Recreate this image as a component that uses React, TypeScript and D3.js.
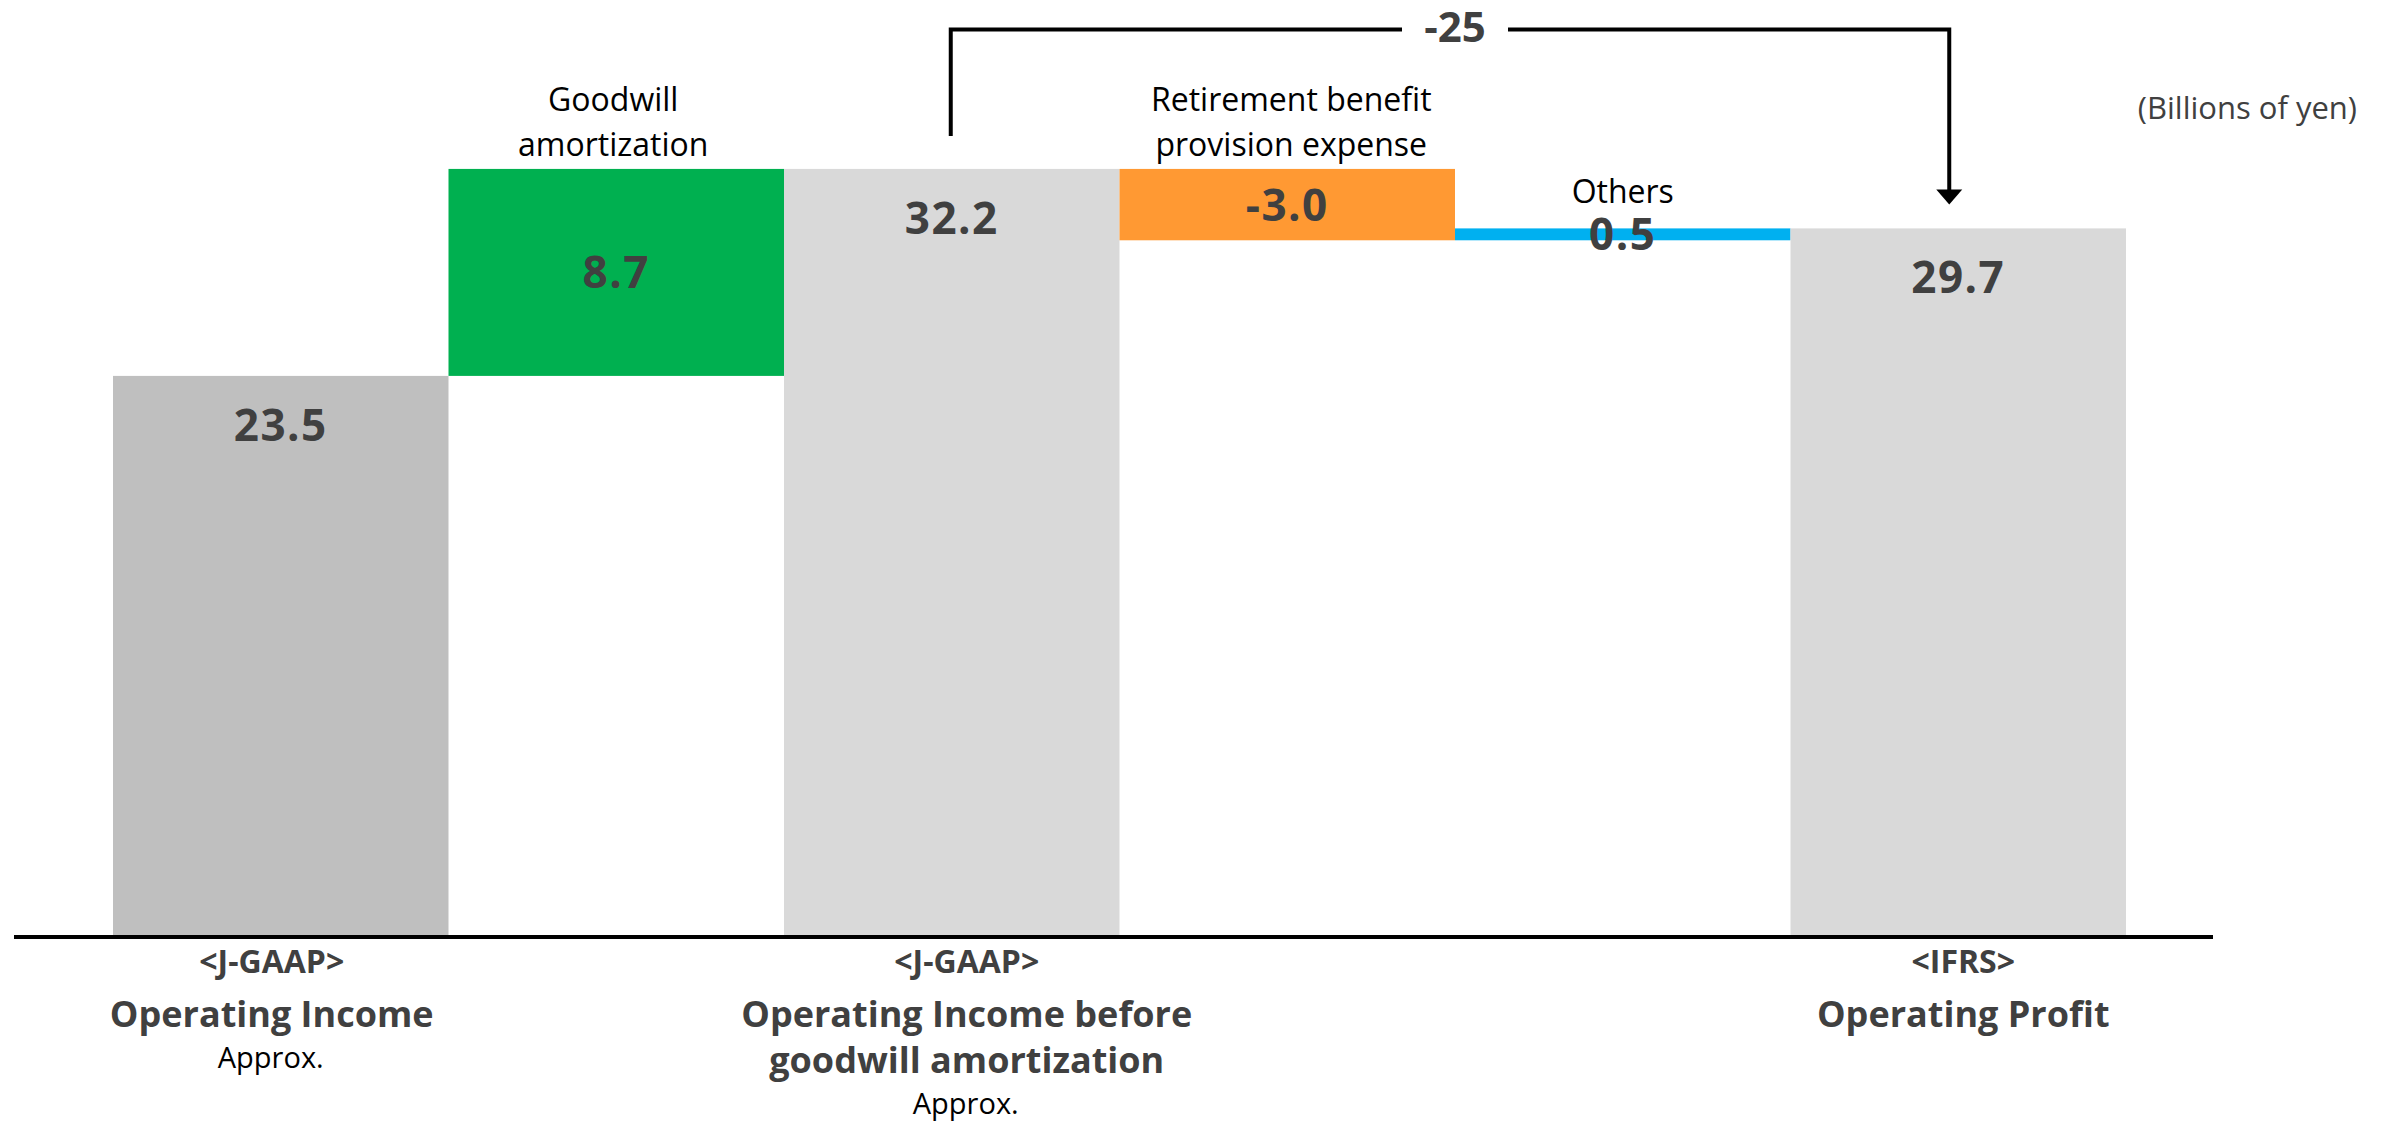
import React from "react";
import * as d3 from "d3";

// ---- data ----
const categories = [
  "J-GAAP Operating Income",
  "Goodwill amortization",
  "J-GAAP Operating Income before goodwill amortization",
  "Retirement benefit provision expense",
  "Others",
  "IFRS Operating Profit",
];
const values = [23.5, 8.7, 32.2, -3.0, 0.5, 29.7];
const kinds = ["total", "delta", "total", "delta", "delta", "total"];
const topLabels = [[], ["Goodwill", "amortization"], [], ["Retirement benefit", "provision expense"], ["Others"], []];
const axisLabels = [
  ["<J-GAAP>", "Operating Income"],
  [],
  ["<J-GAAP>", "Operating Income before", "goodwill amortization"],
  [],
  [],
  ["<IFRS>", "Operating Profit"],
];
const approxFlags = [true, false, true, false, false, false];
const bracketFrom = 2;
const bracketTo = 5;
const bracketLabel = "-25";
const unitLabel = "(Billions of yen)";

// ---- styles / layout ----
const barColors = ["#BFBFBF", "#00B050", "#D9D9D9", "#FF9933", "#00B0F0", "#D9D9D9"];
const axisNudge = [-9, 0, 15, 0, 0, 5];
const topNudge = [0, -3, 0, 4, 0, 0];
const FONT = "'Open Sans', 'Noto Sans', sans-serif";
const W = 2384;
const H = 1125;

const fmt = d3.formatLocale({ decimal: ".", thousands: ",", grouping: [3], currency: ["", ""], minus: "-" }).format(".1f");

export default function App() {
  const x = d3.scaleBand<string>().domain(categories).range([113, 2126]).padding(0);
  const y = d3.scaleLinear().domain([0, 39.3]).range([935, 0]);
  const bw = x.bandwidth();
  const cx = (i: number) => (x(categories[i]) as number) + bw / 2;

  let running = 0;
  const bars = values.map((v, i) => {
    let lo: number, hi: number;
    if (kinds[i] === "total") {
      lo = 0;
      hi = v;
      running = v;
    } else {
      const start = running;
      running = running + v;
      lo = Math.min(start, running);
      hi = Math.max(start, running);
    }
    return { i, v, lo, hi, kind: kinds[i] };
  });

  const y0 = y(0);
  const xl = cx(bracketFrom) - 1;
  const xr = cx(bracketTo) - 9;
  const yTop = 29.5;
  const leftBottom = y(bars[bracketFrom].hi) - 33;
  const tipY = y(bars[bracketTo].hi) - 24;
  const textX = (cx(bracketFrom) + cx(bracketTo)) / 2;
  const gapHalf = 53;

  return (
    <svg width={W} height={H} style={{ position: "absolute", left: 0, top: 0, background: "#fff" }} fontFamily={FONT}>
      {bars.map((b) => (
        <rect
          key={"bar" + b.i}
          x={x(categories[b.i])}
          width={bw}
          y={y(b.hi)}
          height={y(b.lo) - y(b.hi)}
          fill={barColors[b.i]}
        />
      ))}
      {/* axis baseline */}
      <line x1={14} x2={2213} y1={y0 + 2} y2={y0 + 2} stroke="#000" strokeWidth={4} />

      {/* value labels */}
      {bars.map((b) => {
        const ty = b.kind === "total" ? y(b.hi) + 65 : (y(b.hi) + y(b.lo)) / 2 + 16;
        return (
          <text
            key={"v" + b.i}
            x={cx(b.i)}
            y={ty}
            textAnchor="middle"
            fontSize={44}
            fontWeight={700}
            letterSpacing={1.5}
            fill="#404040"
          >
            {fmt(b.v)}
          </text>
        );
      })}

      {/* top category labels */}
      {bars.map((b) => {
        const lines = topLabels[b.i];
        if (!lines.length) return null;
        const gap = lines.length > 1 ? 13 : 25;
        const last = y(b.hi) - gap;
        return (
          <text key={"t" + b.i} textAnchor="middle" fontSize={32} fill="#000">
            {lines.map((l, k) => (
              <tspan key={k} x={cx(b.i) + topNudge[b.i]} y={last - (lines.length - 1 - k) * 45}>
                {l}
              </tspan>
            ))}
          </text>
        );
      })}

      {/* axis category labels */}
      {axisLabels.map((lines, i) => {
        if (!lines.length) return null;
        const lx = cx(i) + axisNudge[i];
        const ys = lines.map((_, k) => (k === 0 ? y0 + 38 : y0 + 92 + (k - 1) * 46));
        return (
          <g key={"a" + i}>
            {lines.map((l, k) => (
              <text
                key={k}
                x={lx}
                y={ys[k]}
                textAnchor="middle"
                fontSize={k === 0 ? 32 : 36}
                fontWeight={700}
                fill="#404040"
              >
                {l}
              </text>
            ))}
            {approxFlags[i] && (
              <text x={lx - 1} y={ys[ys.length - 1] + 41} textAnchor="middle" fontSize={29} fill="#000">
                Approx.
              </text>
            )}
          </g>
        );
      })}

      {/* bracket */}
      <path
        d={`M${xl},${leftBottom}V${yTop}H${textX - gapHalf}M${textX + gapHalf},${yTop}H${xr}V${tipY - 14}`}
        fill="none"
        stroke="#000"
        strokeWidth={4}
      />
      <path d={`M${xr - 13},${tipY - 15}L${xr + 13},${tipY - 15}L${xr},${tipY}Z`} fill="#000" />
      <text x={textX} y={42} textAnchor="middle" fontSize={42} fontWeight={700} fill="#404040">
        {bracketLabel}
      </text>

      {/* unit */}
      <text x={2357} y={119} textAnchor="end" fontSize={31} fill="#404040">
        {unitLabel}
      </text>
    </svg>
  );
}
